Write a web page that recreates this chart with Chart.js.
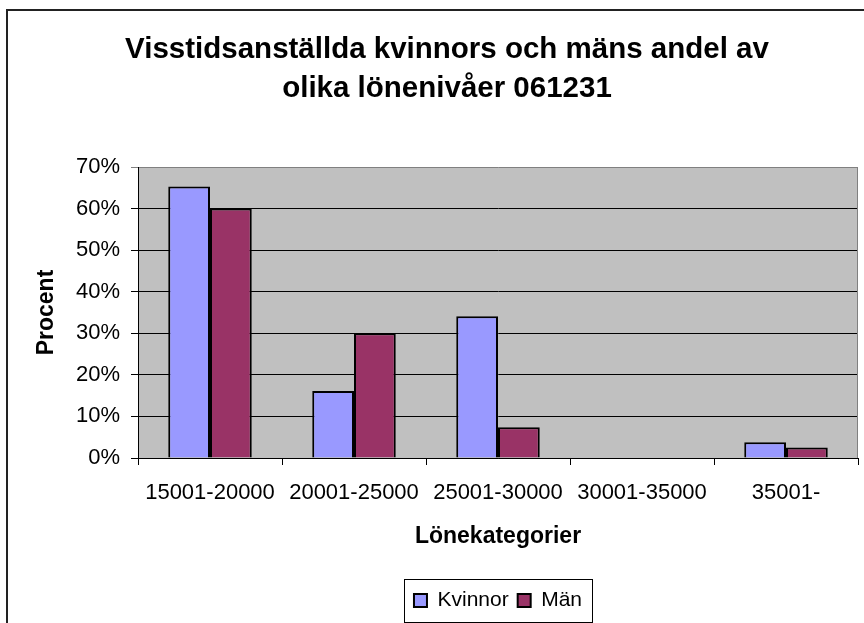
<!DOCTYPE html>
<html>
<head>
<meta charset="utf-8">
<script src="https://cdn.jsdelivr.net/npm/chart.js@4/dist/chart.umd.min.js"></script>
<style>
  html, body { margin: 0; padding: 0; background: #fff; overflow: hidden; }
  #wrap { position: relative; width: 864px; height: 623px; overflow: hidden; }
</style>
</head>
<body>
<div id="wrap"><canvas id="c" width="900" height="623"></canvas></div>
<script>
// Lönekategorier och andelar (läst ur bilden)
const categories = ['15001-20000', '20001-25000', '25001-30000', '30001-35000', '35001-'];
const kvinnor = [0.653, 0.161, 0.341, 0, 0.038];
const man = [0.600, 0.300, 0.074, 0, 0.025];
const yTicks = [0, 0.1, 0.2, 0.3, 0.4, 0.5, 0.6, 0.7];

const FONT = "'Liberation Sans', Arial, sans-serif";

// vit bakgrund, diagramram (vänster + överkant), grå rityta, ram runt förklaringen
const frame = {
  id: 'frame',
  beforeDraw(chart) {
    const ctx = chart.ctx;
    ctx.save();
    ctx.fillStyle = '#fff';
    ctx.fillRect(0, 0, chart.width, chart.height);
    ctx.strokeStyle = '#222';
    ctx.lineWidth = 2;
    ctx.beginPath();
    ctx.moveTo(7, chart.height + 5);
    ctx.lineTo(7, 10);
    ctx.lineTo(chart.width + 5, 10);
    ctx.stroke();
    const a = chart.chartArea;
    ctx.fillStyle = '#C0C0C0';
    ctx.fillRect(a.left, a.top, a.right - a.left, a.bottom - a.top);
    ctx.restore();
  },
  beforeDatasetsDraw(chart) {
    const ctx = chart.ctx;
    const a = chart.chartArea;
    ctx.save();
    ctx.strokeStyle = '#808080';
    ctx.lineWidth = 1;
    ctx.beginPath();
    ctx.moveTo(a.right - 0.5, a.top);
    ctx.lineTo(a.right - 0.5, a.bottom);
    ctx.stroke();
    ctx.restore();
  },
  afterDraw(chart) {
    const boxes = chart.legend && chart.legend.legendHitBoxes;
    if (!boxes || !boxes.length) return;
    const l = Math.min(...boxes.map((b) => b.left));
    const r = Math.max(...boxes.map((b) => b.left + b.width));
    const t = Math.min(...boxes.map((b) => b.top));
    const bt = Math.max(...boxes.map((b) => b.top + b.height));
    const ctx = chart.ctx;
    ctx.save();
    ctx.strokeStyle = '#000';
    ctx.lineWidth = 1;
    ctx.strokeRect(Math.round(l - 10) + 0.5, Math.round(t - 11) + 0.5, Math.round(r - l + 20), Math.round(bt - t + 22));
    ctx.restore();
  },
};

new Chart(document.getElementById('c'), {
  type: 'bar',
  data: {
    labels: categories,
    datasets: [
      { label: 'Kvinnor', data: kvinnor, backgroundColor: '#9999FF', borderColor: '#000', borderWidth: 2 },
      { label: 'Män', data: man, backgroundColor: '#993366', borderColor: '#000', borderWidth: 2 },
    ],
  },
  options: {
    responsive: false,
    animation: false,
    devicePixelRatio: 1,
    layout: { padding: { left: 0, right: 6, top: 10, bottom: 2 } },
    datasets: { bar: { categoryPercentage: 0.58, barPercentage: 1.0 } },
    plugins: {
      title: {
        display: true,
        text: ['Visstidsanställda kvinnors och mäns andel av', 'olika lönenivåer 061231'],
        color: '#000',
        font: { family: FONT, size: 29.5, weight: 'bold', lineHeight: '39px' },
        padding: { top: 20, bottom: 59 },
      },
      legend: {
        position: 'bottom',
        fullSize: false,
        labels: {
          color: '#000',
          font: { family: FONT, size: 21 },
          boxWidth: 13,
          boxHeight: 13,
          padding: 9,
        },
      },
      tooltip: { enabled: false },
    },
    scales: {
      x: {
        grid: { drawOnChartArea: false, color: '#000', tickLength: 7, offset: true },
        border: { color: '#000', width: 1 },
        ticks: { color: '#000', font: { family: FONT, size: 22 }, padding: 15, maxRotation: 0, autoSkip: false },
        title: {
          display: true,
          text: 'Lönekategorier',
          color: '#000',
          font: { family: FONT, size: 23, weight: 'bold' },
          padding: { top: 1, bottom: 31 },
        },
      },
      y: {
        min: 0,
        max: 0.7,
        afterBuildTicks: (scale) => { scale.ticks = yTicks.map((v) => ({ value: v })); },
        afterFit: (scale) => { scale.width = 138; },
        grid: {
          color: (c) => (c.tick && c.tick.value >= 0.7 ? '#808080' : '#000'),
          tickLength: 7,
        },
        border: { color: '#000', width: 1 },
        ticks: {
          color: '#000',
          font: { family: FONT, size: 22 },
          padding: 11,
          callback: (v) => Math.round(v * 100) + '%',
        },
        title: {
          display: true,
          text: 'Procent',
          color: '#000',
          font: { family: FONT, size: 23, weight: 'bold' },
          padding: { top: 33, bottom: 0 },
        },
      },
      // osynlig axel till höger, håller ritytans högerkant vid bildkanten
      yPad: {
        position: 'right',
        display: true,
        grid: { display: false },
        border: { display: false },
        ticks: { display: false },
        afterFit: (scale) => { scale.width = 36; },
      },
    },
  },
  plugins: [frame],
});
</script>
</body>
</html>
